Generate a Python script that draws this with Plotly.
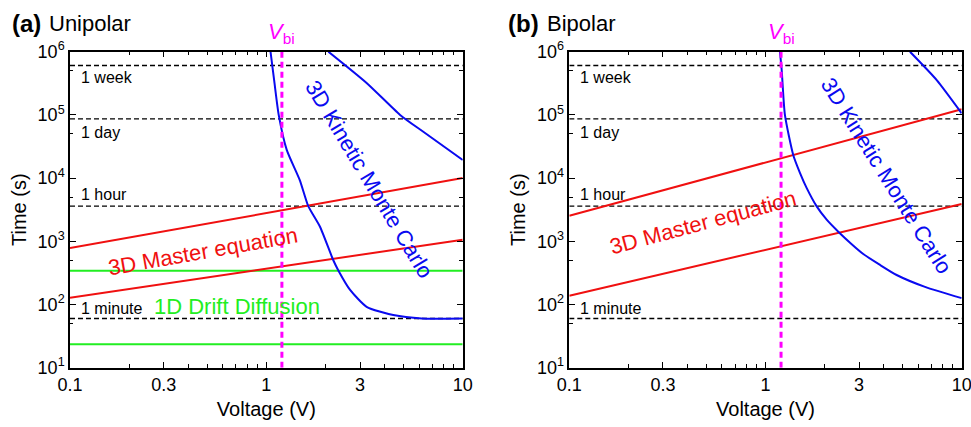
import math
import plotly.graph_objects as go

# ---------------- data ----------------
V_ends = [0.1, 10]
V_bi = 1.2
ref_times = [604800, 86400, 3600, 60]
ref_labels = ["1 week", "1 day", "1 hour", "1 minute"]

# (a) Unipolar
uni_me_upper = [780, 10000]
uni_me_lower = [128, 1060]
uni_dd_upper = [343, 343]
uni_dd_lower = [23.4, 23.4]
uni_kmc1_v = [1.05, 1.10, 1.156, 1.27, 1.48, 1.635, 1.876, 2.19, 2.33, 2.67, 3.24, 4.43, 6.18, 10]
uni_kmc1_t = [1e6, 3.2e5, 1e5, 2.8e4, 9.3e3, 3600, 1700, 506, 343, 170, 92, 68, 60, 60]
uni_kmc2_v = [2.07, 3.24, 4.8, 6.3, 10]
uni_kmc2_t = [1e6, 3.2e5, 1e5, 5.4e4, 1.93e4]

# (b) Bipolar
bi_kmc1_v = [1.185, 1.21, 1.256, 1.386, 1.50, 1.62, 1.82, 2.05, 2.35, 2.75, 3.15, 3.8, 4.66, 6.5, 10]
bi_kmc1_t = [1e6, 5e5, 1e5, 2.3e4, 1.2e4, 7e3, 3600, 2200, 1420, 900, 630, 430, 293, 190, 126]
bi_me_upper = [2540, 1.23e5]
bi_me_lower = [138, 3890]
bi_kmc2_v = [5.45, 7.46, 10]
bi_kmc2_t = [1e6, 3.56e5, 1.06e5]

x_tickvals = [0.1, 0.3, 1, 3, 10]
x_ticktext = ["0.1", "0.3", "1", "3", "10"]
y_tickvals = [10, 100, 1000, 1e4, 1e5, 1e6]
y_ticktext = ["10<sup>1</sup>", "10<sup>2</sup>", "10<sup>3</sup>", "10<sup>4</sup>",
              "10<sup>5</sup>", "10<sup>6</sup>"]
y_minor = [50, 500, 5000, 5e4, 5e5]

# ---------------- styling ----------------
FONT = "Liberation Sans"
BLUE = "#0a0af0"
RED = "#f01010"
GREEN = "#22ee22"
MAGENTA = "#ff00ff"
W, H = 971, 427

fig = go.Figure()

def add_panel(xr, yr, me_up, me_lo, kmc_curves, dd=None):
    for t in ref_times:
        fig.add_trace(go.Scatter(x=V_ends, y=[t, t], mode="lines", xaxis=xr, yaxis=yr,
                                 line=dict(color="black", width=1.3, dash="5px,3px"),
                                 showlegend=False, hoverinfo="skip"))
    if dd:
        for d in dd:
            fig.add_trace(go.Scatter(x=V_ends, y=d, mode="lines", xaxis=xr, yaxis=yr,
                                     line=dict(color=GREEN, width=2), showlegend=False))
    for m in (me_up, me_lo):
        fig.add_trace(go.Scatter(x=V_ends, y=m, mode="lines", xaxis=xr, yaxis=yr,
                                 line=dict(color=RED, width=2), showlegend=False))
    for v, t in kmc_curves:
        fig.add_trace(go.Scatter(x=v, y=t, mode="lines", xaxis=xr, yaxis=yr,
                                 line=dict(color=BLUE, width=2, shape="spline", smoothing=0.6),
                                 showlegend=False))
    fig.add_trace(go.Scatter(x=[V_bi, V_bi], y=[10, 1e6], mode="lines", xaxis=xr, yaxis=yr,
                             line=dict(color=MAGENTA, width=3, dash="6px,4px"),
                             showlegend=False))

add_panel("x", "y", uni_me_upper, uni_me_lower,
          [(uni_kmc1_v, uni_kmc1_t), (uni_kmc2_v, uni_kmc2_t)],
          dd=[uni_dd_upper, uni_dd_lower])
add_panel("x2", "y2", bi_me_upper, bi_me_lower,
          [(bi_kmc1_v, bi_kmc1_t), (bi_kmc2_v, bi_kmc2_t)])

y_dom = [1 - 367.7 / H, 1 - 51.7 / H]
x_doms = [[70 / W, 462.7 / W], [569.3 / W, 961.7 / W]]

def xaxis(dom, anchor):
    return dict(domain=dom, anchor=anchor, type="log", range=[-1, 1], showgrid=False,
                zeroline=False, automargin=False, ticklabeloverflow="allow",
                showline=True, linecolor="black", linewidth=1.5, mirror="ticks",
                ticks="inside", ticklen=6, tickwidth=1.3, tickcolor="black",
                tickvals=x_tickvals, ticktext=x_ticktext,
                tickfont=dict(family=FONT, size=18, color="black"),
                minor=dict(dtick="D1", ticks="inside", ticklen=3.5, tickwidth=1.2,
                           tickcolor="black", showgrid=False),
                title=dict(text="Voltage (V)", font=dict(family=FONT, size=20, color="black"),
                           standoff=8))

def yaxis(anchor):
    return dict(domain=y_dom, anchor=anchor, type="log", range=[1, 6], showgrid=False,
                zeroline=False, automargin=False,
                showline=True, linecolor="black", linewidth=1.5,
                mirror="ticks", ticks="inside", ticklen=6, tickwidth=1.3, tickcolor="black",
                tickvals=y_tickvals, ticktext=y_ticktext,
                tickfont=dict(family=FONT, size=18, color="black"),
                minor=dict(tickvals=y_minor, ticks="inside", ticklen=3.5, tickwidth=1.2,
                           tickcolor="black", showgrid=False),
                title=dict(text="Time (s)", font=dict(family=FONT, size=20, color="black"),
                           standoff=6))

fig.update_layout(
    width=W, height=H, margin=dict(l=0, r=0, t=0, b=0, autoexpand=False),
    paper_bgcolor="white", plot_bgcolor="white",
    font=dict(family=FONT, color="black"),
    xaxis=xaxis(x_doms[0], "y"),
    yaxis=yaxis("x"),
    xaxis2=xaxis(x_doms[1], "y2"),
    yaxis2=yaxis("x2"),
)

ann = []
# panel titles
for xl, xt, lab, name in [(10, 46.5, "(a)", "Unipolar"), (506, 545, "(b)", "Bipolar")]:
    ann.append(dict(x=xl / W, y=1 - 24 / H, xref="paper", yref="paper", xanchor="left",
                    yanchor="middle", showarrow=False, text="<b>" + lab + "</b>",
                    font=dict(family=FONT, size=24, color="black")))
    ann.append(dict(x=xt / W, y=1 - 24 / H, xref="paper", yref="paper", xanchor="left",
                    yanchor="middle", showarrow=False, text=name,
                    font=dict(family=FONT, size=22, color="black")))

shifts = [-12, -14, 12, 10]
for xr, yr in [("x", "y"), ("x2", "y2")]:
    for t, lab, s in zip(ref_times, ref_labels, shifts):
        ann.append(dict(x=math.log10(V_ends[0]), y=math.log10(t), xref=xr, yref=yr,
                        xanchor="left", yanchor="middle", xshift=9, yshift=s,
                        showarrow=False, text=lab,
                        font=dict(family=FONT, size=16, color="black")))
    ann.append(dict(x=math.log10(V_bi), y=1, xref=xr, yref=yr + " domain",
                    xanchor="center", yanchor="bottom", yshift=3, showarrow=False,
                    text="<i>V</i><sub>bi</sub>",
                    font=dict(family=FONT, size=22, color=MAGENTA)))

# series labels
ann += [
    dict(x=-0.323, y=2.831, xref="x", yref="y", text="3D Master equation", textangle=-10,
         showarrow=False, font=dict(family=FONT, size=22, color=RED)),
    dict(x=-0.147, y=1.968, xref="x", yref="y", text="1D Drift Diffusion",
         showarrow=False, font=dict(family=FONT, size=22, color=GREEN)),
    dict(x=0.525, y=3.978, xref="x", yref="y", text="3D Kinetic Monte Carlo", textangle=59,
         showarrow=False, font=dict(family=FONT, size=22, color=BLUE)),
    dict(x=-0.3186, y=3.297, xref="x2", yref="y2", text="3D Master equation", textangle=-15,
         showarrow=False, font=dict(family=FONT, size=22, color=RED)),
    dict(x=0.6167, y=4.049, xref="x2", yref="y2", text="3D Kinetic Monte Carlo", textangle=58,
         showarrow=False, font=dict(family=FONT, size=22, color=BLUE)),
]
fig.update_layout(annotations=ann)

fig.write_html("out.html", config={"displayModeBar": False},
               post_script="document.body.style.margin='0px';")
